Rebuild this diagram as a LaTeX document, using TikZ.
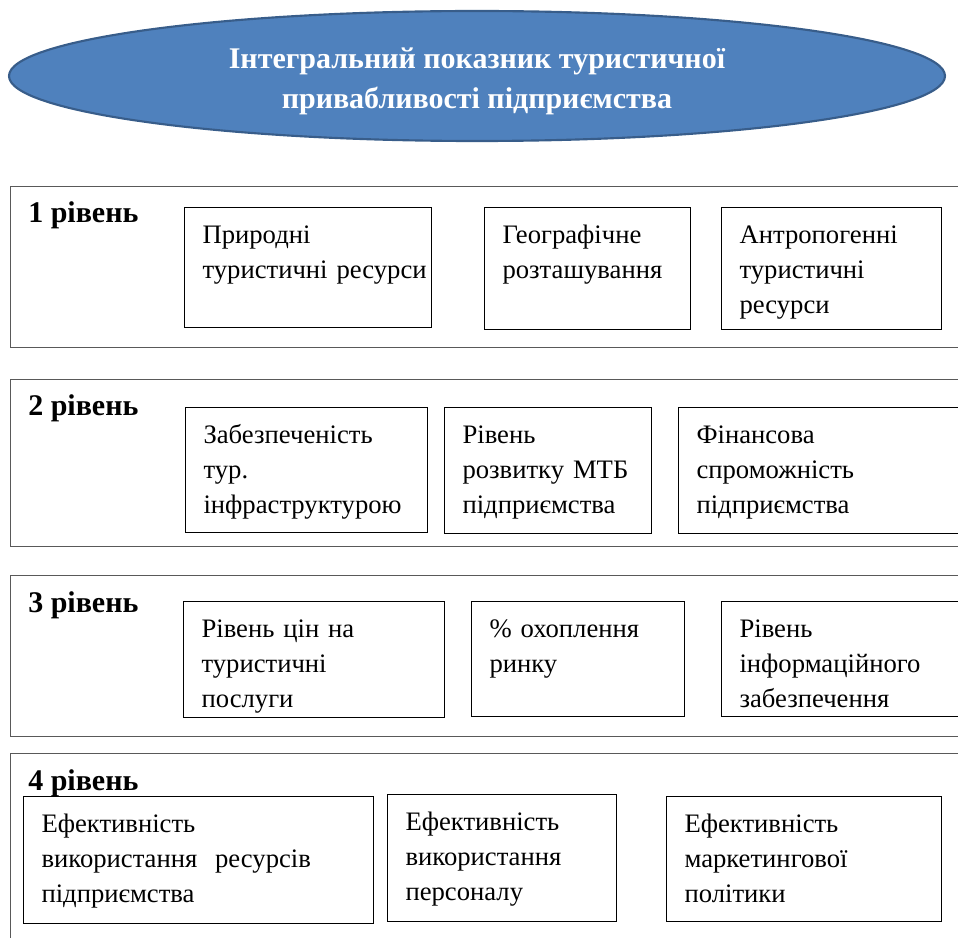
\documentclass[tikz,border=0pt]{standalone}
\usepackage{fontspec}
\setmainfont{Liberation Serif}
\usepackage{xcolor}
\usepackage{tikz}
\usetikzlibrary{shapes.geometric}

\definecolor{ovalfill}{HTML}{4F81BD}
\definecolor{ovalline}{HTML}{385D8A}
\newdimen\pxu
\pxu=0.75pt

\begin{document}
\begin{tikzpicture}[x=0.75pt, y=-0.75pt]

    % Define style for boxes
    \tikzstyle{oval} = [ellipse, minimum width=936\pxu, minimum height=130\pxu, draw=ovalline, line width=1.6pt, fill=ovalfill, text=white, align=center, text height=71\pxu, text depth=6\pxu, font=\fontsize{22.5pt}{30pt}\selectfont\bfseries]
    \tikzstyle{level} = [rectangle, anchor=north west, draw=black!65, line width=1.1pt, minimum width=965\pxu]
    \tikzstyle{lab} = [anchor=base west, inner sep=0pt, font=\fontsize{22.5pt}{27pt}\selectfont\bfseries]
    \tikzstyle{item} = [rectangle, anchor=north west, draw=black, line width=0.8pt, inner xsep=18\pxu, inner ysep=0pt, text height=35.5\pxu, align=left, font=\fontsize{20pt}{26.6pt}\selectfont]

    \useasboundingbox (0,0) rectangle (958,938);
    \clip (0,0) rectangle (958,938);

    % Title
    \node (title) [oval] at (477,76) {Інтегральний показник туристичної\\привабливості підприємства};

    % Levels
    \node (level1) [level, minimum height=161\pxu] at (10,186) {};
    \node (level2) [level, minimum height=167\pxu] at (10,379) {};
    \node (level3) [level, minimum height=161\pxu] at (10,575) {};
    \node (level4) [level, minimum height=207\pxu] at (10,753) {};

    \node (lab1) [lab] at (28,223) {1 рівень};
    \node (lab2) [lab] at (28,416) {2 рівень};
    \node (lab3) [lab] at (28,612) {3 рівень};
    \node (lab4) [lab] at (28,790) {4 рівень};

    % Level 1
    \node (natural) [item, text width=211\pxu, text depth=84.5\pxu] at (184,207) {Природні\\\mbox{туристичні ресурси}};
    \node (geo) [item, text width=170\pxu, text depth=86.5\pxu] at (484,207) {Географічне\\розташування};
    \node (anthro) [item, text width=184\pxu, text depth=86.5\pxu] at (721,207) {Антропогенні\\туристичні\\ресурси};

    % Level 2
    \node (infra) [item, text width=206\pxu, text depth=89.5\pxu] at (185,407) {Забезпеченість\\тур.\\інфраструктурою};
    \node (mtb) [item, text width=171\pxu, text depth=90.5\pxu] at (444,407) {Рівень\\\mbox{розвитку МТБ}\\підприємства};
    \node (finance) [item, text width=264\pxu, text depth=90.5\pxu] at (678,407) {Фінансова\\спроможність\\підприємства};

    % Level 3
    \node (prices) [item, text width=225\pxu, text depth=80.5\pxu] at (183,601) {Рівень цін на\\туристичні\\послуги};
    \node (market) [item, text width=177\pxu, text depth=79.5\pxu] at (471,601) {\% охоплення\\ринку};
    \node (info) [item, text width=224\pxu, text depth=79.5\pxu] at (721,601) {Рівень\\інформаційного\\забезпечення};

    % Level 4
    \node (resources) [item, text width=314\pxu, text depth=91.5\pxu] at (23,796) {Ефективність\\використання~ ресурсів\\підприємства};
    \node (staff) [item, text width=193\pxu, text depth=91.5\pxu] at (387,794) {Ефективність\\використання\\персоналу};
    \node (marketing) [item, text width=239\pxu, text depth=89.5\pxu] at (666,796) {Ефективність\\маркетингової\\політики};

\end{tikzpicture}
\end{document}
